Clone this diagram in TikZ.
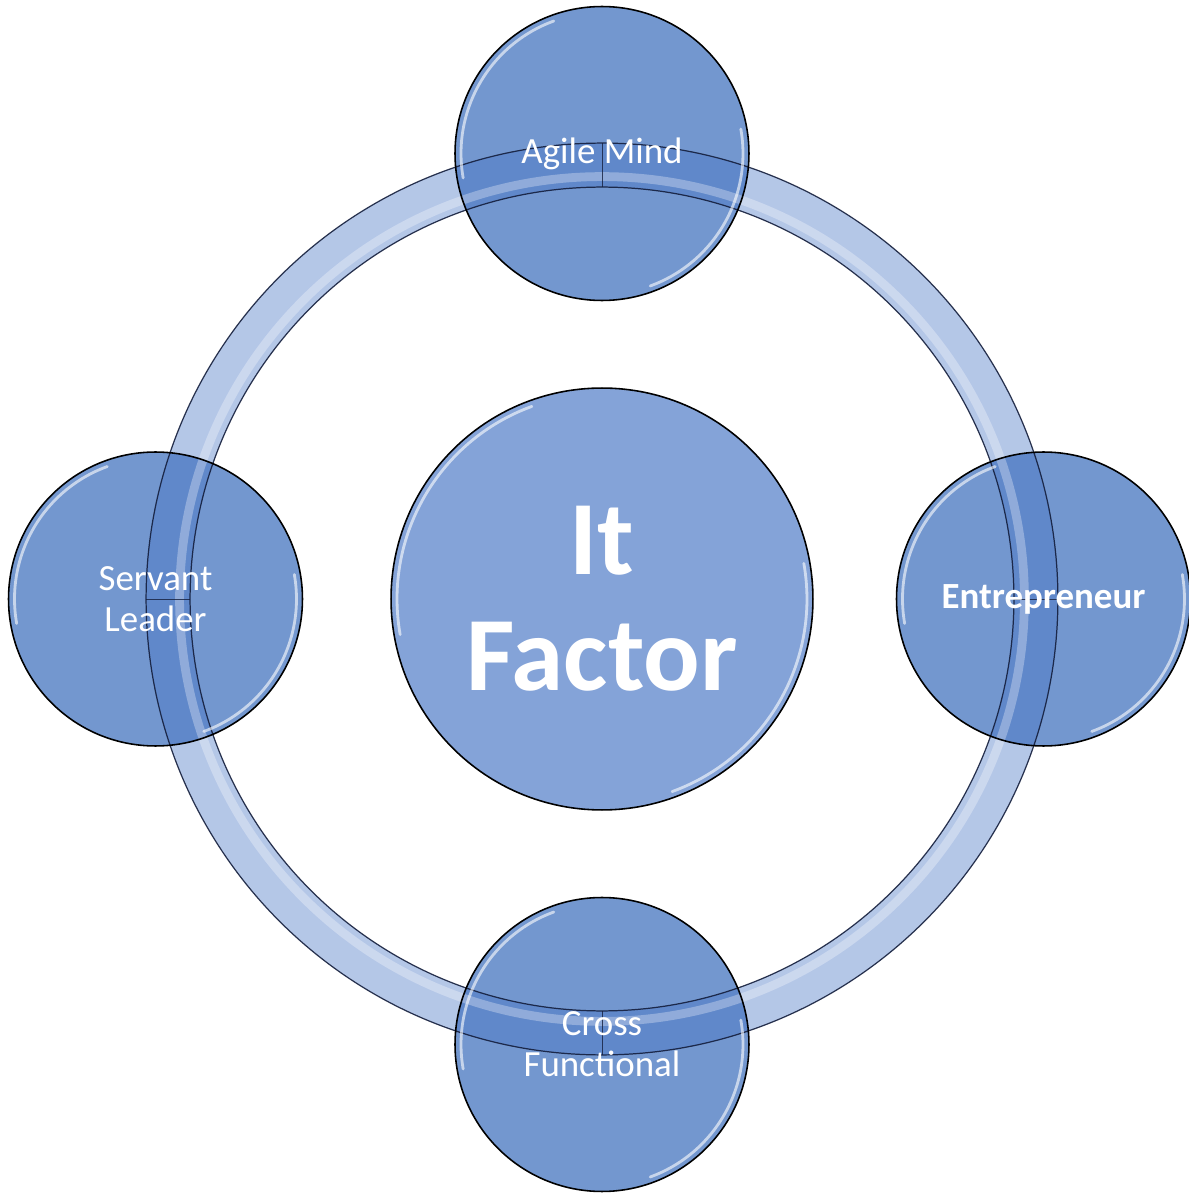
\documentclass[tikz,border=0pt]{standalone}
\usepackage{fontspec}
\setmainfont{Carlito}
\usepackage{tikz}
\usetikzlibrary{positioning}
\pgfdeclarelayer{fills}
\pgfdeclarelayer{ringlayer}
\pgfsetlayers{fills,ringlayer,main}
\definecolor{ballblue}{RGB}{115,151,207}
\definecolor{hubblue}{RGB}{132,163,216}
\definecolor{ringblue}{RGB}{68,114,196}
\definecolor{ringedge}{RGB}{20,30,60}

\begin{document}
\begin{tikzpicture}[
  x=0.02cm, y=0.02cm,
  ball/.style = {circle, draw=black, line width=0.9pt, minimum size=5.88cm, inner sep=0pt, align=center, text=white, font=\fontsize{21}{23.5}\selectfont},
  hub/.style = {ball, minimum size=8.44cm, font=\bfseries\fontsize{60}{66}\selectfont},
  shine/.style = {white, line width=1.6pt, opacity=0.6, line cap=round},
  seam/.style = {ringedge, line width=0.5pt, opacity=0.8}
]
\useasboundingbox (-602,-594) rectangle (586,599);

\node[hub] (hub) at (0,0) {It\\Factor};
\node[ball, above=1.72cm of hub] (agile) {Agile Mind};
\node[ball, right=1.64cm of hub, font=\bfseries\fontsize{21}{23.5}\selectfont] (entre) {Entrepreneur};
\node[ball, below=1.72cm of hub] (cross) {Cross\\Functional};
\node[ball, left=1.74cm of hub] (servant) {Servant\\Leader};

% fills go under the ring
\begin{pgfonlayer}{fills}
  \fill[hubblue] (hub) circle[radius=4.22cm];
  \foreach \n in {agile,entre,cross,servant}
    \fill[ballblue] (\n) circle[radius=2.94cm];
\end{pgfonlayer}

% translucent ring through the four balls
\begin{pgfonlayer}{ringlayer}
  \fill[ringblue, fill opacity=0.4, even odd rule] (hub) circle[radius=9.12cm] (hub) circle[radius=8.24cm];
  \draw[white, line width=5pt, opacity=0.3] (hub) circle[radius=8.45cm];
  \draw[ringedge, line width=0.7pt, opacity=0.9] (hub) circle[radius=9.12cm] (hub) circle[radius=8.24cm];
  \foreach \a in {0,90,180,270}
    \draw[seam] (hub) ++(\a:8.24cm) -- ++(\a:0.88cm);
  \foreach \n in {agile,entre,cross,servant} {
    \draw[shine] (\n) ++(110:2.82cm) arc[start angle=110, end angle=190, radius=2.82cm];
    \draw[shine] (\n) ++(-70:2.82cm) arc[start angle=-70, end angle=10, radius=2.82cm];
  }
  \draw[shine] (hub) ++(110:4.1cm) arc[start angle=110, end angle=190, radius=4.1cm];
  \draw[shine] (hub) ++(-70:4.1cm) arc[start angle=-70, end angle=10, radius=4.1cm];
\end{pgfonlayer}
\end{tikzpicture}
\end{document}
